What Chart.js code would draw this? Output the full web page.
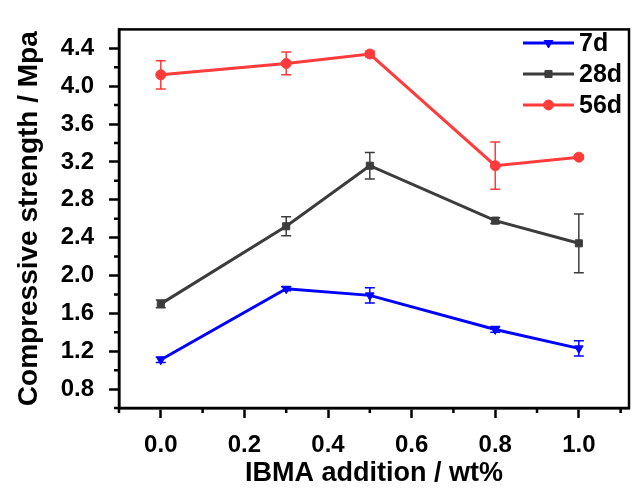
<!DOCTYPE html>
<html>
<head>
<meta charset="utf-8">
<script src="https://cdn.jsdelivr.net/npm/chart.js@4.4.0/dist/chart.umd.min.js"></script>
<style>
  html, body { margin: 0; padding: 0; background: #fff; }
</style>
</head>
<body>
<canvas id="chart" width="635" height="490"></canvas>
<script>
//////////////////////
// Data
//////////////////////
const additions = [0.0, 0.3, 0.5, 0.8, 1.0];

const strength7d = [1.11, 1.86, 1.79, 1.43, 1.23];
const error7d = [0.03, 0.02, 0.08, 0.03, 0.08];

const strength28d = [1.70, 2.52, 3.16, 2.58, 2.34];
const error28d = [0.04, 0.10, 0.14, 0.03, 0.31];

const strength56d = [4.12, 4.24, 4.34, 3.16, 3.25];
const error56d = [0.15, 0.12, 0.03, 0.25, 0.02];

const seriesNames = ["7d", "28d", "56d"];

// tick labels
const xTicks = [0.0, 0.2, 0.4, 0.6, 0.8, 1.0];
const xMinorTicks = [-0.1, 0.1, 0.3, 0.5, 0.7, 0.9, 1.1];
const yTicks = [0.8, 1.2, 1.6, 2.0, 2.4, 2.8, 3.2, 3.6, 4.0, 4.4];
const yMinorTicks = [0.6, 1.0, 1.4, 1.8, 2.2, 2.6, 3.0, 3.4, 3.8, 4.2];

//////////////////////
// Helpers
//////////////////////
const FONT = "'Liberation Sans', Arial, sans-serif";

function toPoints(values) {
    return values.map((v, i) => ({ x: additions[i], y: v }));
}

//////////////////////
// Plugin: frame, minor ticks, error bars, legend
//////////////////////
const extrasPlugin = {
    id: "extras",
    afterDatasetsDraw(chart) {
        const ctx = chart.ctx;
        const xs = chart.scales.x;
        const ys = chart.scales.y;

        // error bars
        chart.data.datasets.forEach(ds => {
            ctx.save();
            ctx.strokeStyle = ds.borderColor;
            ctx.lineWidth = 1.5;
            ds.data.forEach((p, i) => {
                const e = ds.errors[i];
                const px = xs.getPixelForValue(p.x);
                const top = ys.getPixelForValue(p.y + e);
                const bot = ys.getPixelForValue(p.y - e);
                ctx.beginPath();
                ctx.moveTo(px, top); ctx.lineTo(px, bot);
                ctx.moveTo(px - 5, top); ctx.lineTo(px + 5, top);
                ctx.moveTo(px - 5, bot); ctx.lineTo(px + 5, bot);
                ctx.stroke();
            });
            ctx.restore();
        });
    },
    afterDraw(chart) {
        const ctx = chart.ctx;
        const area = chart.chartArea;
        const xs = chart.scales.x;
        const ys = chart.scales.y;

        ctx.save();
        // box frame
        ctx.strokeStyle = "#000";
        ctx.lineWidth = 2.5;
        ctx.strokeRect(area.left, area.top, area.right - area.left, area.bottom - area.top);

        // minor ticks
        ctx.beginPath();
        xMinorTicks.forEach(v => {
            const px = xs.getPixelForValue(v);
            ctx.moveTo(px, area.bottom);
            ctx.lineTo(px, area.bottom + 5);
        });
        yMinorTicks.forEach(v => {
            const py = ys.getPixelForValue(v);
            ctx.moveTo(area.left, py);
            ctx.lineTo(area.left - 5, py);
        });
        ctx.stroke();

        // legend
        const lx = 523, ly = 43, gap = 31;
        chart.data.datasets.forEach((ds, i) => {
            const y = ly + i * gap;
            ctx.strokeStyle = ds.borderColor;
            ctx.fillStyle = ds.backgroundColor;
            ctx.lineWidth = 3;
            ctx.beginPath();
            ctx.moveTo(lx, y);
            ctx.lineTo(lx + 51, y);
            ctx.stroke();
            ctx.lineWidth = 1;
            Chart.helpers.drawPoint(ctx, {
                pointStyle: ds.pointStyle,
                radius: 5,
                rotation: ds.pointRotation || 0,
                borderWidth: 1
            }, lx + 25.5, y);
            ctx.fillStyle = "#000";
            ctx.font = "bold 25px " + FONT;
            ctx.textBaseline = "middle";
            ctx.fillText(ds.label, lx + 56, y + 1);
        });
        ctx.restore();
    }
};

//////////////////////
// Build chart
//////////////////////
function makeDataset(name, values, errors, color, style, rotation) {
    return {
        label: name,
        data: toPoints(values),
        errors: errors,
        borderColor: color,
        backgroundColor: color,
        borderWidth: 3,
        pointStyle: style,
        pointRotation: rotation,
        pointRadius: 5,
        pointBorderWidth: 1,
        tension: 0
    };
}

const ctx = document.getElementById("chart").getContext("2d");

new Chart(ctx, {
    type: "line",
    data: {
        datasets: [
            makeDataset(seriesNames[0], strength7d, error7d, "#0000ff", "triangle", 180),
            makeDataset(seriesNames[1], strength28d, error28d, "#3c3c3c", "rect", 0),
            makeDataset(seriesNames[2], strength56d, error56d, "#ff3b3b", "circle", 0)
        ]
    },
    options: {
        responsive: false,
        animation: false,
        devicePixelRatio: 1,
        layout: { padding: { top: 16, right: 4, left: 0, bottom: 0 } },
        plugins: {
            legend: { display: false },
            tooltip: { enabled: false }
        },
        scales: {
            x: {
                type: "linear",
                min: -0.1,
                max: 1.12,
                afterBuildTicks: s => { s.ticks = xTicks.map(v => ({ value: v })); },
                afterFit: s => { s.height = 82; },
                border: { color: "#000", width: 2.5 },
                grid: { drawOnChartArea: false, tickLength: 10, tickColor: "#000", tickWidth: 2.5 },
                ticks: {
                    color: "#000",
                    padding: 13,
                    maxRotation: 0,
                    font: { family: FONT, size: 24, weight: "bold" },
                    callback: v => v.toFixed(1)
                },
                title: {
                    display: true,
                    text: "IBMA addition / wt%",
                    color: "#000",
                    padding: { top: 0, bottom: 0 },
                    font: { family: FONT, size: 27, weight: "bold" }
                }
            },
            y: {
                type: "linear",
                min: 0.6,
                max: 4.6,
                afterBuildTicks: s => { s.ticks = yTicks.map(v => ({ value: v })); },
                afterFit: s => { s.width = 119; },
                border: { color: "#000", width: 2.5 },
                grid: { drawOnChartArea: false, tickLength: 10, tickColor: "#000", tickWidth: 2.5 },
                ticks: {
                    color: "#000",
                    padding: 15,
                    font: { family: FONT, size: 24, weight: "bold" },
                    callback: v => v.toFixed(1)
                },
                title: {
                    display: true,
                    text: "Compressive strength / Mpa",
                    color: "#000",
                    padding: { top: 12, bottom: 0 },
                    font: { family: FONT, size: 28, weight: "bold" }
                }
            }
        }
    },
    plugins: [extrasPlugin]
});
</script>
</body>
</html>
